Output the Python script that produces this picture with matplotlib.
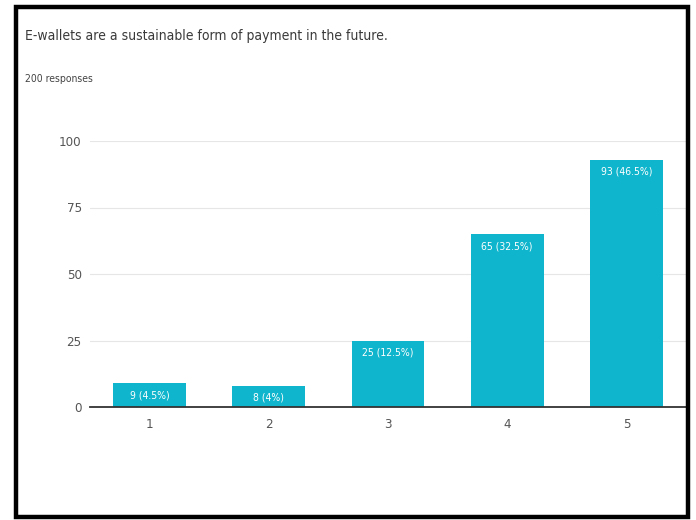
import matplotlib.pyplot as plt
from matplotlib.patches import Rectangle

# Ответы по шкале 1-5
categories = ['1', '2', '3', '4', '5']
counts = [9, 8, 25, 65, 93]
percents = ['4.5%', '4%', '12.5%', '32.5%', '46.5%']
y_ticks = [0, 25, 50, 75, 100]

fig = plt.figure(figsize=(6.96, 5.20), dpi=100)
fig.patch.set_facecolor('white')

# Чёрная рамка вокруг всей картинки
fig.patches.append(Rectangle((16 / 696, 3 / 520), 672 / 696, 510 / 520,
                             transform=fig.transFigure, fill=False,
                             edgecolor='black', linewidth=3.2))

ax = fig.add_axes([90 / 696, 113 / 520, 596 / 696, 266 / 520])

x = range(len(categories))
bars = ax.bar(x, counts, width=0.61, color='#0fb5cc', zorder=3)

# Подписи значений внутри столбцов
for bar, n, p in zip(bars, counts, percents):
    ax.text(bar.get_x() + bar.get_width() / 2, n - 4.5, f'{n} ({p})',
            ha='center', va='center', color='white', fontsize=7.5,
            fontstretch='condensed', zorder=4)

ax.set_xlim(-0.5, 4.5)
ax.set_ylim(0, 100)
ax.set_yticks(y_ticks)
ax.set_xticks(list(x))
ax.set_xticklabels(categories)
ax.tick_params(axis='both', length=0, colors='#555555', labelsize=9.5)
ax.tick_params(axis='y', pad=6)
ax.tick_params(axis='x', pad=8)
for lbl in ax.get_xticklabels() + ax.get_yticklabels():
    lbl.set_fontstretch('condensed')

ax.grid(axis='y', color='#e6e6e6', linewidth=0.8, zorder=0)
for side in ['top', 'right', 'left']:
    ax.spines[side].set_visible(False)
ax.spines['bottom'].set_color('#333333')
ax.spines['bottom'].set_linewidth(1.3)
ax.spines['bottom'].set_zorder(5)

fig.text(25 / 696, 1 - 36 / 520, 'E-wallets are a sustainable form of payment in the future.',
         fontsize=10, color='#3a3a3a', va='center', fontstretch='condensed')
fig.text(25 / 696, 1 - 79 / 520, '200 responses', fontsize=7.5, color='#444444',
         va='center', fontstretch='condensed')

plt.savefig('out.png', dpi=100)
